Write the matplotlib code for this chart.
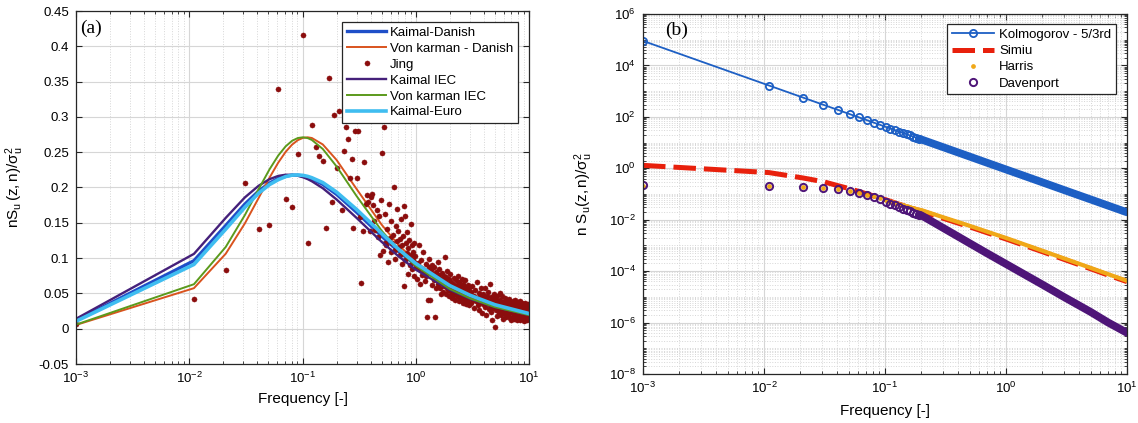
import numpy as np
import matplotlib
matplotlib.use("Agg")
import matplotlib.pyplot as plt
from matplotlib.ticker import (LogLocator, LogFormatterMathtext, FixedLocator,
                               FuncFormatter, NullFormatter)

plt.rcParams['font.family'] = ['Liberation Sans', 'DejaVu Sans']
plt.rcParams['mathtext.fontset'] = 'custom'
plt.rcParams['mathtext.rm'] = 'Liberation Sans'
plt.rcParams['mathtext.it'] = 'Liberation Sans:italic'
plt.rcParams['mathtext.default'] = 'regular'

# ---------------- panel (a): spectra models vs. measured spectrum ----------------
freq_a = [0.001, 0.011, 0.021, 0.031, 0.041, 0.051, 0.061, 0.071, 0.081, 0.091,
          0.101, 0.111, 0.121, 0.151, 0.2, 0.3, 0.5, 0.7, 1, 2, 3, 5, 10]
kaimal_danish = [0.0114, 0.0963, 0.1462, 0.1765, 0.1950, 0.2062, 0.2127, 0.2161, 0.2175, 0.2174,
                 0.2163, 0.2147, 0.2124, 0.2044, 0.1903, 0.1650, 0.1310, 0.1100, 0.0900, 0.0593,
                 0.0460, 0.0331, 0.0210]
vonkarman_danish = [0.0053, 0.0574, 0.1062, 0.1492, 0.1852, 0.2136, 0.2351, 0.2505, 0.2608, 0.2671,
                    0.2703, 0.2711, 0.2701, 0.2610, 0.2390, 0.1980, 0.1473, 0.1193, 0.0947, 0.0600,
                    0.0459, 0.0326, 0.0206]
kaimal_iec = [0.0140, 0.1060, 0.1570, 0.1860, 0.2025, 0.2117, 0.2164, 0.2181, 0.2179, 0.2166,
              0.2145, 0.2119, 0.2088, 0.1990, 0.1830, 0.1570, 0.1230, 0.1030, 0.0836, 0.0550,
              0.0425, 0.0306, 0.0194]
vonkarman_iec = [0.0058, 0.0630, 0.1158, 0.1610, 0.1977, 0.2254, 0.2452, 0.2583, 0.2662, 0.2701,
                 0.2711, 0.2700, 0.2673, 0.2546, 0.2298, 0.1880, 0.1388, 0.1122, 0.0890, 0.0562,
                 0.0431, 0.0306, 0.0193]
kaimal_euro = [0.0105, 0.0910, 0.1410, 0.1720, 0.1920, 0.2040, 0.2110, 0.2155, 0.2175, 0.2177,
               0.2172, 0.2158, 0.2138, 0.2070, 0.1935, 0.1690, 0.1350, 0.1130, 0.0925, 0.0610,
               0.0475, 0.0340, 0.0215]

# measured (Jing) spectrum, low-frequency part
jing_f_lo = [0.001, 0.011, 0.021, 0.031, 0.041, 0.051, 0.061, 0.071, 0.081, 0.091,
             0.101, 0.111, 0.121, 0.131, 0.141, 0.151, 0.161, 0.171, 0.181, 0.191,
             0.201, 0.211, 0.221, 0.231, 0.241, 0.251, 0.261, 0.271, 0.281, 0.291,
             0.301, 0.311, 0.321, 0.331, 0.341, 0.351, 0.361, 0.371, 0.381, 0.391,
             0.401, 0.411, 0.421, 0.431, 0.441, 0.451, 0.461, 0.471, 0.481, 0.491,
             0.501, 0.511, 0.521, 0.531]
jing_v_lo = [0.006, 0.042, 0.083, 0.207, 0.141, 0.147, 0.340, 0.184, 0.172, 0.247,
             0.416, 0.121, 0.289, 0.257, 0.245, 0.238, 0.143, 0.355, 0.180, 0.303,
             0.227, 0.309, 0.168, 0.252, 0.285, 0.268, 0.214, 0.241, 0.142, 0.280,
             0.214, 0.280, 0.158, 0.065, 0.138, 0.236, 0.176, 0.190, 0.179, 0.139,
             0.186, 0.191, 0.175, 0.152, 0.140, 0.168, 0.130, 0.159, 0.105, 0.183,
             0.249, 0.110, 0.285, 0.122]
# 0.54 ... 1.00 Hz, step 0.01
jing_v_mid = [0.163, 0.118, 0.141, 0.095, 0.176, 0.128, 0.108, 0.152, 0.121, 0.133,
              0.200, 0.099, 0.112, 0.145, 0.124, 0.170, 0.138, 0.116, 0.127, 0.104,
              0.156, 0.092, 0.119, 0.131, 0.174, 0.061, 0.160, 0.098, 0.121, 0.107,
              0.137, 0.078, 0.114, 0.101, 0.126, 0.090, 0.148, 0.105, 0.085, 0.118,
              0.097, 0.109, 0.074, 0.122, 0.093, 0.103, 0.087]
# 1.02 ... 3.00 Hz, step 0.02
jing_v_hi1 = [0.071, 0.093, 0.118, 0.064, 0.085, 0.097, 0.076, 0.109, 0.081, 0.068,
              0.092, 0.074, 0.016, 0.040, 0.087, 0.099, 0.040, 0.083, 0.062, 0.090,
              0.078, 0.069, 0.088, 0.016, 0.058, 0.081, 0.072, 0.095, 0.063, 0.076,
              0.084, 0.057, 0.071, 0.049, 0.066, 0.079, 0.052, 0.074, 0.061, 0.101,
              0.068, 0.049, 0.073, 0.058, 0.082, 0.055, 0.064, 0.047, 0.071, 0.060,
              0.077, 0.052, 0.066, 0.043, 0.045, 0.063, 0.056, 0.072, 0.049, 0.061,
              0.058, 0.041, 0.069, 0.053, 0.062, 0.047, 0.074, 0.051, 0.058, 0.039,
              0.066, 0.049, 0.055, 0.043, 0.061, 0.052, 0.071, 0.046, 0.058, 0.037,
              0.053, 0.064, 0.041, 0.057, 0.048, 0.069, 0.044, 0.052, 0.035, 0.059,
              0.046, 0.055, 0.038, 0.062, 0.049, 0.042, 0.057, 0.033, 0.051, 0.044]
# 3.05 ... 10.0 Hz, step 0.05
jing_v_hi2 = [0.052, 0.036, 0.061, 0.041, 0.047, 0.029, 0.055, 0.039, 0.066, 0.043,
              0.034, 0.051, 0.027, 0.046, 0.058, 0.038, 0.022, 0.049, 0.035, 0.044,
              0.057, 0.031, 0.042, 0.019, 0.047, 0.036, 0.052, 0.028, 0.039, 0.063,
              0.033, 0.045, 0.024, 0.041, 0.013, 0.038, 0.029, 0.049, 0.031, 0.002,
              0.043, 0.027, 0.036, 0.018, 0.047, 0.031, 0.039, 0.022, 0.034, 0.051,
              0.028, 0.041, 0.019, 0.035, 0.026, 0.046, 0.031, 0.014, 0.038, 0.024,
              0.033, 0.021, 0.044, 0.027, 0.036, 0.017, 0.031, 0.040, 0.024, 0.029,
              0.019, 0.035, 0.026, 0.042, 0.015, 0.031, 0.023, 0.037, 0.028, 0.012,
              0.033, 0.024, 0.039, 0.018, 0.029, 0.036, 0.014, 0.027, 0.041, 0.022,
              0.031, 0.017, 0.028, 0.036, 0.021, 0.013, 0.033, 0.025, 0.038, 0.019,
              0.027, 0.035, 0.016, 0.030, 0.022, 0.039, 0.012, 0.026, 0.033, 0.018,
              0.029, 0.014, 0.037, 0.021, 0.031, 0.017, 0.026, 0.034, 0.011, 0.024,
              0.032, 0.019, 0.027, 0.013, 0.036, 0.022, 0.029, 0.015, 0.033, 0.024,
              0.018, 0.030, 0.012, 0.026, 0.035, 0.020, 0.014, 0.028, 0.023, 0.031]

yticks_a = [-0.05, 0, 0.05, 0.1, 0.15, 0.2, 0.25, 0.3, 0.35, 0.4, 0.45]

# ---------------- panel (b): spectra on log-log scale ----------------
freq_b = [0.001, 0.011, 0.021, 0.031, 0.041, 0.051, 0.061, 0.071, 0.081, 0.091,
          0.101, 0.111, 0.121, 0.131, 0.141, 0.151, 0.161, 0.171, 0.181, 0.191,
          0.201, 0.3, 0.5, 0.7, 1, 2, 3, 5, 7, 10]
kolmogorov = [9.0e4, 1655, 563, 294, 185, 128, 95.3, 74.0, 59.4, 48.9,
              41.1, 35.1, 30.4, 26.7, 23.6, 21.0, 18.9, 17.1, 15.5, 14.2,
              13.05, 6.7, 2.86, 1.63, 0.9, 0.284, 0.144, 0.0616, 0.0351, 0.0194]
simiu = [1.30, 0.68, 0.42, 0.30, 0.21, 0.16, 0.125, 0.100, 0.083, 0.070,
         0.060, 0.052, 0.045, 0.040, 0.036, 0.032, 0.029, 0.027, 0.025, 0.023,
         0.0215, 0.0115, 0.0053, 0.0031, 0.00178, 5.7e-4, 2.9e-4, 1.24e-4, 7.0e-5, 3.9e-5]
harris = [0.21, 0.20, 0.19, 0.17, 0.15, 0.13, 0.11, 0.095, 0.083, 0.070,
          0.058, 0.050, 0.045, 0.040, 0.036, 0.033, 0.030, 0.028, 0.026, 0.0245,
          0.0235, 0.0126, 0.0058, 0.0034, 0.00195, 6.2e-4, 3.15e-4, 1.34e-4, 7.6e-5, 4.2e-5]
davenport = [0.22, 0.21, 0.19, 0.17, 0.155, 0.13, 0.105, 0.089, 0.077, 0.063,
             0.050, 0.041, 0.036, 0.031, 0.027, 0.024, 0.021, 0.019, 0.017, 0.0158,
             0.0145, 0.0049, 0.00122, 4.9e-4, 1.9e-4, 3.0e-5, 1.0e-5, 2.6e-6, 1.0e-6, 4.0e-7]

# ---------------- styling ----------------
C_KD = '#1f4fc8'
C_VKD = '#d9531e'
C_JING = '#8b0d0d'
C_KIEC = '#45207a'
C_VKIEC = '#5b9a1c'
C_KEURO = '#3fbdf0'
C_KOL = '#1d5fc4'
C_SIM = '#e8200c'
C_HAR = '#f0a818'
C_DAV = '#4e1578'
GRID = '#d6d6d6'
SPINE = '#262626'

fig = plt.figure(figsize=(11.38, 4.23), dpi=100)
ax1 = fig.add_axes([76 / 1138, (423 - 364) / 423, 453 / 1138, 353 / 423])
ax2 = fig.add_axes([643 / 1138, (423 - 374) / 423, 484 / 1138, 360 / 423])


def style_axes(ax):
    ax.set_axisbelow(True)
    for s in ax.spines.values():
        s.set_color(SPINE)
        s.set_linewidth(0.9)
    ax.tick_params(which='both', direction='in', top=True, right=True,
                   colors=SPINE, labelcolor='black', labelsize=9.5)
    ax.tick_params(which='major', length=4, width=0.8, pad=5)
    ax.tick_params(which='minor', length=2.5, width=0.6)


# ----- panel (a) -----
fa = np.array(freq_a)
ax1.plot(fa, kaimal_danish, color=C_KD, lw=2.4, label='Kaimal-Danish')
ax1.plot(fa, vonkarman_danish, color=C_VKD, lw=1.4, label='Von karman - Danish')
jing_f = np.concatenate([jing_f_lo,
                         np.linspace(0.54, 1.00, len(jing_v_mid)),
                         np.linspace(1.02, 3.00, len(jing_v_hi1)),
                         np.linspace(3.05, 10.0, len(jing_v_hi2))])
jing_v = np.concatenate([jing_v_lo, jing_v_mid, jing_v_hi1, jing_v_hi2])
ax1.plot(jing_f, jing_v, ls='none', marker='o', ms=3.7, mfc=C_JING, mec=C_JING,
         mew=0.3, label='Jing')
ax1.plot(fa, kaimal_iec, color=C_KIEC, lw=1.7, label='Kaimal IEC')
ax1.plot(fa, vonkarman_iec, color=C_VKIEC, lw=1.4, label='Von karman IEC')
ax1.plot(fa, kaimal_euro, color=C_KEURO, lw=2.6, label='Kaimal-Euro')

ax1.set_xscale('log')
ax1.set_xlim(1e-3, 10)
ax1.set_ylim(-0.05, 0.45)
ax1.yaxis.set_major_locator(FixedLocator(yticks_a))
ax1.yaxis.set_major_formatter(FuncFormatter(lambda v, p: '%g' % round(v, 2)))
ax1.xaxis.set_major_locator(LogLocator(base=10, numticks=20))
ax1.xaxis.set_minor_locator(LogLocator(base=10, subs=np.arange(2, 10), numticks=100))
ax1.xaxis.set_major_formatter(LogFormatterMathtext())
ax1.xaxis.set_minor_formatter(NullFormatter())
style_axes(ax1)
ax1.grid(True, which='major', color=GRID, lw=0.8, ls='-')
ax1.grid(True, which='minor', axis='x', color=GRID, lw=0.7, ls=':')
ax1.set_xlabel('Frequency [-]', fontsize=11)
ax1.xaxis.set_label_coords(0.5, -0.08)
ax1.set_ylabel(r'$nS_u\,(z,n)/\sigma_u^2$', fontsize=11)
ax1.yaxis.set_label_coords(-0.11, 0.5)
ax1.text(0.009, 0.975, '(a)', transform=ax1.transAxes, ha='left', va='top',
         fontsize=14, family=['Liberation Serif', 'DejaVu Serif'])
leg1 = ax1.legend(loc='upper right', bbox_to_anchor=(0.976, 0.969), borderaxespad=0,
                  fontsize=9.5, handlelength=3.0, handletextpad=0.3, labelspacing=0.28,
                  borderpad=0.35, fancybox=False, framealpha=1, edgecolor=SPINE)
leg1.get_frame().set_linewidth(0.9)

# ----- panel (b) -----
fb = np.array(freq_b)
kol = np.array(kolmogorov)
sim = np.array(simiu)
har = np.array(harris)
dav = np.array(davenport)
sparse = fb <= 0.2
dense = fb >= 0.19

ax2.plot(fb, kol, color=C_KOL, lw=1.3, marker='o', ms=5.2, mfc='none', mec=C_KOL,
         mew=1.3, markevery=list(np.where(sparse)[0]), label='Kolmogorov - 5/3rd')
ax2.plot(fb[dense], kol[dense], color=C_KOL, lw=5.6, solid_capstyle='round',
         label='_nolegend_')
ax2.plot(fb, sim, color=C_SIM, lw=3.6, ls=(0, (4.5, 1.6)), label='Simiu')
ax2.plot(fb[sparse], har[sparse], ls='none', marker='o', ms=2.4, mfc=C_HAR, mec=C_HAR,
         label='Harris')
ax2.plot(fb[fb >= 0.1], har[fb >= 0.1], color=C_HAR, lw=3.0, solid_capstyle='round',
         label='_nolegend_')
ax2.plot(fb[sparse], dav[sparse], ls='none', marker='o', ms=5.2, mfc='none', mec=C_DAV,
         mew=1.4, label='Davenport')
ax2.plot(fb[dense], dav[dense], color=C_DAV, lw=5.6, solid_capstyle='round',
         label='_nolegend_')

ax2.set_xscale('log')
ax2.set_yscale('log')
ax2.set_xlim(1e-3, 10)
ax2.set_ylim(1e-8, 1e6)
ax2.xaxis.set_major_locator(LogLocator(base=10, numticks=20))
ax2.xaxis.set_minor_locator(LogLocator(base=10, subs=np.arange(2, 10), numticks=100))
ax2.xaxis.set_major_formatter(LogFormatterMathtext())
ax2.xaxis.set_minor_formatter(NullFormatter())
ax2.yaxis.set_major_locator(FixedLocator([10.0 ** k for k in range(-8, 7, 2)]))
ax2.yaxis.set_minor_locator(LogLocator(base=10, subs=np.arange(1, 10), numticks=100))
ax2.yaxis.set_major_formatter(LogFormatterMathtext())
ax2.yaxis.set_minor_formatter(NullFormatter())
style_axes(ax2)
ax2.grid(True, which='major', color=GRID, lw=0.8, ls='-')
ax2.grid(True, which='minor', color=GRID, lw=0.7, ls=':')
ax2.set_xlabel('Frequency [-]', fontsize=11)
ax2.xaxis.set_label_coords(0.5, -0.083)
ax2.set_ylabel(r'$n\ S_u(z,n)/\sigma_u^2$', fontsize=11)
ax2.yaxis.set_label_coords(-0.099, 0.5)
ax2.text(0.045, 0.98, '(b)', transform=ax2.transAxes, ha='left', va='top',
         fontsize=14, family=['Liberation Serif', 'DejaVu Serif'])
leg2 = ax2.legend(loc='upper right', bbox_to_anchor=(0.977, 0.972), borderaxespad=0,
                  fontsize=9.5, handlelength=3.2, handletextpad=0.4, labelspacing=0.3,
                  borderpad=0.35, fancybox=False, framealpha=1, edgecolor=SPINE)
leg2.get_frame().set_linewidth(0.9)

fig.savefig('out.png', dpi=100)
